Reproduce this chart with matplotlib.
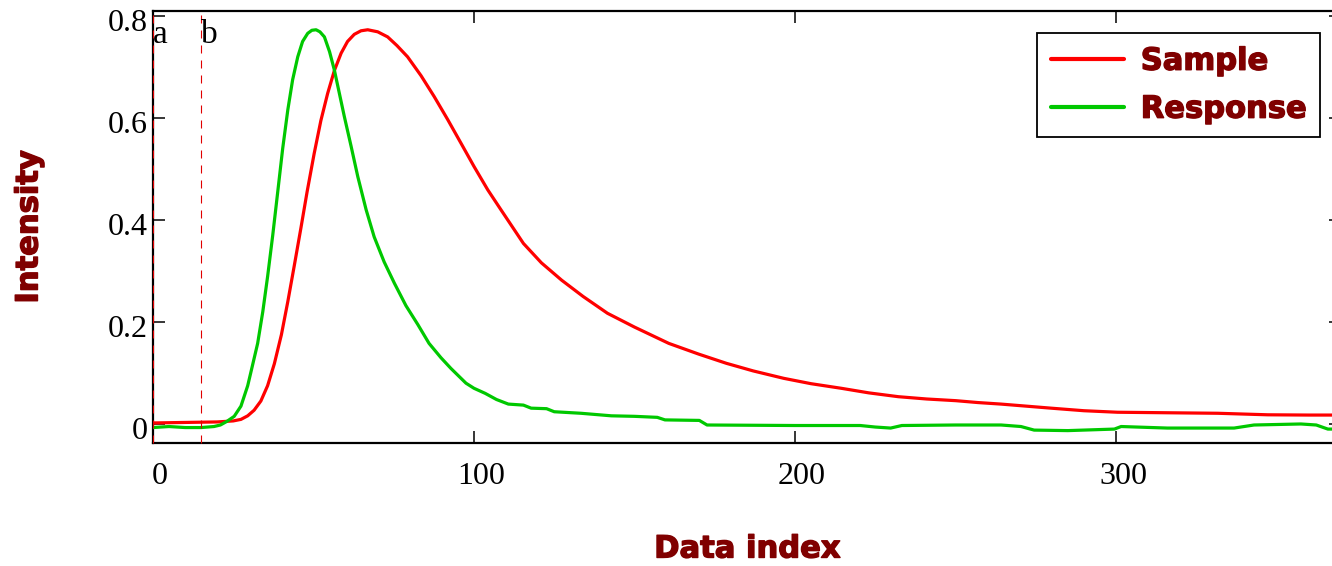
import matplotlib
matplotlib.use("Agg")
import matplotlib.pyplot as plt
import matplotlib.patheffects as pe
import matplotlib.transforms as mtransforms

# ---- data ----
sample_x = [0, 10, 20, 25, 27.4, 29.5, 31.5, 33.6, 35.7, 37.8, 40, 42, 44, 46.1, 48,
            50.2, 52.3, 54.4, 56.5, 58.6, 60.6, 62.7, 64.8, 66.9, 70, 73.1, 76, 79.3,
            83.5, 87.6, 91.8, 96, 100, 104.3, 108.4, 115.4, 121, 127.3, 134, 141.6,
            150, 160.7, 170, 178.6, 187, 196.5, 205, 214.4, 223, 232.2, 241, 250.1,
            257, 264.2, 272, 279.8, 290, 300.5, 316, 331.7, 347.3, 360, 370]
sample_y = [0.002, 0.003, 0.004, 0.006, 0.009, 0.016, 0.027, 0.045, 0.075, 0.118, 0.175,
            0.24, 0.31, 0.385, 0.455, 0.53, 0.595, 0.648, 0.693, 0.727, 0.75, 0.764,
            0.771, 0.773, 0.769, 0.759, 0.742, 0.72, 0.683, 0.642, 0.597, 0.55, 0.505,
            0.459, 0.42, 0.354, 0.316, 0.282, 0.25, 0.217, 0.19, 0.158, 0.137, 0.119,
            0.104, 0.0895, 0.079, 0.070, 0.061, 0.0535, 0.049, 0.0457, 0.042, 0.039,
            0.035, 0.031, 0.026, 0.023, 0.022, 0.021, 0.018, 0.0175, 0.0175]

response_x = [0, 5, 10, 15, 19, 21, 23, 25.3, 27.4, 29.5, 31, 32.6, 34.2, 35.7, 37.3,
              38.8, 40.4, 42, 43.5, 45.1, 46.6, 48.2, 49.5, 50.8, 52, 53.4, 55, 56.5,
              58, 59.6, 61.7, 63.8, 66.4, 68.9, 72, 75.2, 78.8, 82.5, 86, 89.7, 92.8,
              97.5, 100, 103.5, 107, 110.7, 115.4, 117.8, 122.6, 125, 133.3, 142.8,
              150, 157.1, 159.5, 170.2, 172.6, 200, 220.3, 225, 229.8, 233.3, 250,
              264.2, 270.4, 274.5, 285, 299.5, 301.6, 316, 336.8, 343, 357.6, 362.4,
              366, 370]
response_y = [-0.007, -0.005, -0.007, -0.007, -0.005, -0.002, 0.005, 0.015, 0.035,
              0.075, 0.115, 0.158, 0.22, 0.289, 0.37, 0.452, 0.54, 0.616, 0.675, 0.72,
              0.75, 0.766, 0.772, 0.773, 0.769, 0.759, 0.73, 0.694, 0.65, 0.603, 0.545,
              0.485, 0.42, 0.367, 0.318, 0.276, 0.232, 0.195, 0.158, 0.13, 0.109, 0.08,
              0.07, 0.060, 0.048, 0.039, 0.037, 0.031, 0.030, 0.024, 0.021, 0.016,
              0.015, 0.013, 0.008, 0.007, -0.002, -0.003, -0.003, -0.006, -0.008,
              -0.003, -0.002, -0.002, -0.005, -0.012, -0.013, -0.010, -0.005, -0.008,
              -0.008, -0.002, 0.0, -0.002, -0.010, -0.010]

series_labels = ["Sample", "Response"]
marker_x = [0, 15]
marker_labels = ["a", "b"]
x_ticks = [0, 100, 200, 300]
y_ticks = [0, 0.2, 0.4, 0.6, 0.8]
y_tick_labels = ["0", "0.2", "0.4", "0.6", "0.8"]
x_label = "Data index"
y_label = "Intensity"

# ---- figure ----
W, H = 1332, 566
fig = plt.figure(figsize=(W / 100, H / 100), dpi=100)
ax = fig.add_axes([153 / W, 1 - 443 / H, (1341 - 153) / W, (443 - 11) / H])

dark_red = "#800000"
serif = ["Liberation Serif", "DejaVu Serif"]

l1, = ax.plot(sample_x, sample_y, color="#ff0000", lw=2.3, label=series_labels[0],
              solid_capstyle="round", zorder=3)
l2, = ax.plot(response_x, response_y, color="#00c800", lw=2.3, label=series_labels[1],
              solid_capstyle="round", zorder=3)

for mx, ml in zip(marker_x, marker_labels):
    ax.axvline(mx, color="#e00000", lw=0.8, linestyle=(0, (7.2, 6.3)), zorder=4,
               clip_on=False)
    ax.text(mx, 0.747, ml, ha="left", va="baseline", fontsize=24, family=serif,
            color="black", zorder=5)

ax.set_xlim(0, 370.1)
ax.set_ylim(-0.0373, 0.8098)

ax.set_xticks(x_ticks)
ax.set_xticklabels([str(v) for v in x_ticks])
ax.set_yticks(y_ticks)
ax.set_yticklabels(y_tick_labels)

ax.tick_params(axis="both", direction="in", length=8.6, width=1.1, color="black",
               top=True, right=True, labelsize=23)
ax.tick_params(axis="x", pad=14)
ax.tick_params(axis="y", pad=4)
for lab in ax.get_xticklabels() + ax.get_yticklabels():
    lab.set_family(serif)

offset_x = mtransforms.ScaledTranslation(7 / 100, 0, fig.dpi_scale_trans)
for lab in ax.get_xticklabels():
    lab.set_transform(lab.get_transform() + offset_x)
offset_y = mtransforms.ScaledTranslation(0, -4 / 100, fig.dpi_scale_trans)
for lab in ax.get_yticklabels():
    lab.set_transform(lab.get_transform() + offset_y)

for s in ax.spines.values():
    s.set_linewidth(1.6)
    s.set_color("black")

label_fx = [pe.withStroke(linewidth=1.0, foreground=dark_red)]
fig.text(747 / W, 1 - 549 / H, x_label, ha="center", va="center", fontsize=22,
         fontweight="bold", family="DejaVu Sans", color=dark_red, path_effects=label_fx)
fig.text(29 / W, 1 - 227 / H, y_label, ha="center", va="center", rotation=90,
         fontsize=22, fontweight="bold", family="DejaVu Sans", color=dark_red,
         path_effects=label_fx)

leg = ax.legend(handles=[l1, l2], loc="upper right",
                bbox_to_anchor=(1320 / W, 1 - 33 / H), bbox_transform=fig.transFigure,
                prop={"family": "DejaVu Sans", "weight": "bold", "size": 22},
                frameon=True, fancybox=False, framealpha=1, edgecolor="black",
                handlelength=2.4, handletextpad=0.55, borderpad=0.45,
                labelspacing=0.62, borderaxespad=0)
leg.get_frame().set_linewidth(1.3)
for t in leg.get_texts():
    t.set_color(dark_red)
    t.set_path_effects(label_fx)
for h in leg.legend_handles:
    h.set_linewidth(3)

fig.savefig("out.png", dpi=100)
